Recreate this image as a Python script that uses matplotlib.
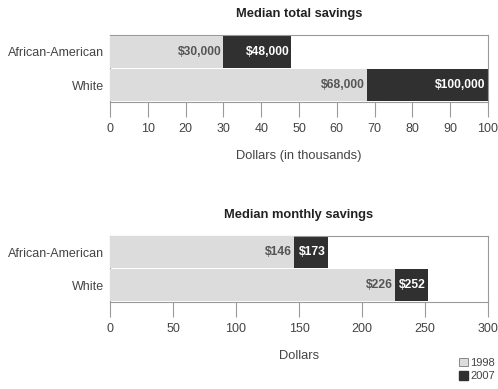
import matplotlib
matplotlib.use("Agg")
import matplotlib.pyplot as plt
from matplotlib.patches import Patch

plt.rcParams['font.family'] = ['Liberation Sans', 'DejaVu Sans']

groups = ["White", "African-American"]
years = ["1998", "2007"]

total_1998 = [68, 30]     # thousands of dollars
total_2007 = [100, 48]
monthly_1998 = [226, 146]  # dollars
monthly_2007 = [252, 173]

total_ticks = [0, 10, 20, 30, 40, 50, 60, 70, 80, 90, 100]
monthly_ticks = [0, 50, 100, 150, 200, 250, 300]

light = "#dcdcdc"
dark = "#303030"
edge = "#9a9a9a"
txt = "#444444"

fig = plt.figure(figsize=(4.98, 3.89), dpi=100)


def panel(rect, v98, v07, ticks, title, xlabel, fmt):
    ax = fig.add_axes(rect)
    ypos = list(range(len(groups)))
    ax.barh(ypos, v07, height=0.96, color=dark, edgecolor="none", zorder=2)
    ax.barh(ypos, v98, height=0.96, color=light, edgecolor="none", zorder=3)
    span = ticks[-1] - ticks[0]
    off = span * 0.006
    for y, a, b in zip(ypos, v98, v07):
        ax.text(a - off, y, fmt(a), ha="right", va="center", fontsize=8.7,
                fontweight="bold", color="#555555", zorder=4)
        ax.text(b - off, y, fmt(b), ha="right", va="center", fontsize=8.7,
                fontweight="bold", color="white", zorder=4)
    ax.set_xlim(ticks[0], ticks[-1])
    ax.set_ylim(-0.5, 1.5)
    ax.set_xticks(ticks)
    ax.set_xticklabels([str(t) for t in ticks])
    ax.set_yticks(ypos)
    ax.set_yticklabels(groups)
    ax.tick_params(axis="x", length=11, width=0.8, color=edge,
                   labelsize=9, labelcolor=txt, pad=4)
    ax.tick_params(axis="y", length=0, labelsize=9, labelcolor=txt, pad=4)
    for s in ax.spines.values():
        s.set_color(edge)
        s.set_linewidth(0.8)
    ax.set_xlabel(xlabel, fontsize=9.3, color=txt, labelpad=11)
    ax.set_title(title, fontsize=9.3, fontweight="bold", color="#222222", pad=13)
    return ax


panel([0.221, 0.738, 0.759, 0.172], total_1998, total_2007, total_ticks,
      "Median total savings", "Dollars (in thousands)",
      lambda v: "${:,}".format(v * 1000))
panel([0.221, 0.224, 0.759, 0.170], monthly_1998, monthly_2007, monthly_ticks,
      "Median monthly savings", "Dollars",
      lambda v: "${}".format(v))

handles = [Patch(facecolor=light, edgecolor="#777777", linewidth=0.6),
           Patch(facecolor=dark, edgecolor=dark)]
fig.legend(handles, years, loc="lower right", bbox_to_anchor=(1.01, 0.0),
           frameon=False, fontsize=8, labelcolor=txt, handlelength=0.8,
           handleheight=0.8, handletextpad=0.2, labelspacing=0.3,
           borderpad=0.2)

fig.savefig("out.png", dpi=100, facecolor="white")
